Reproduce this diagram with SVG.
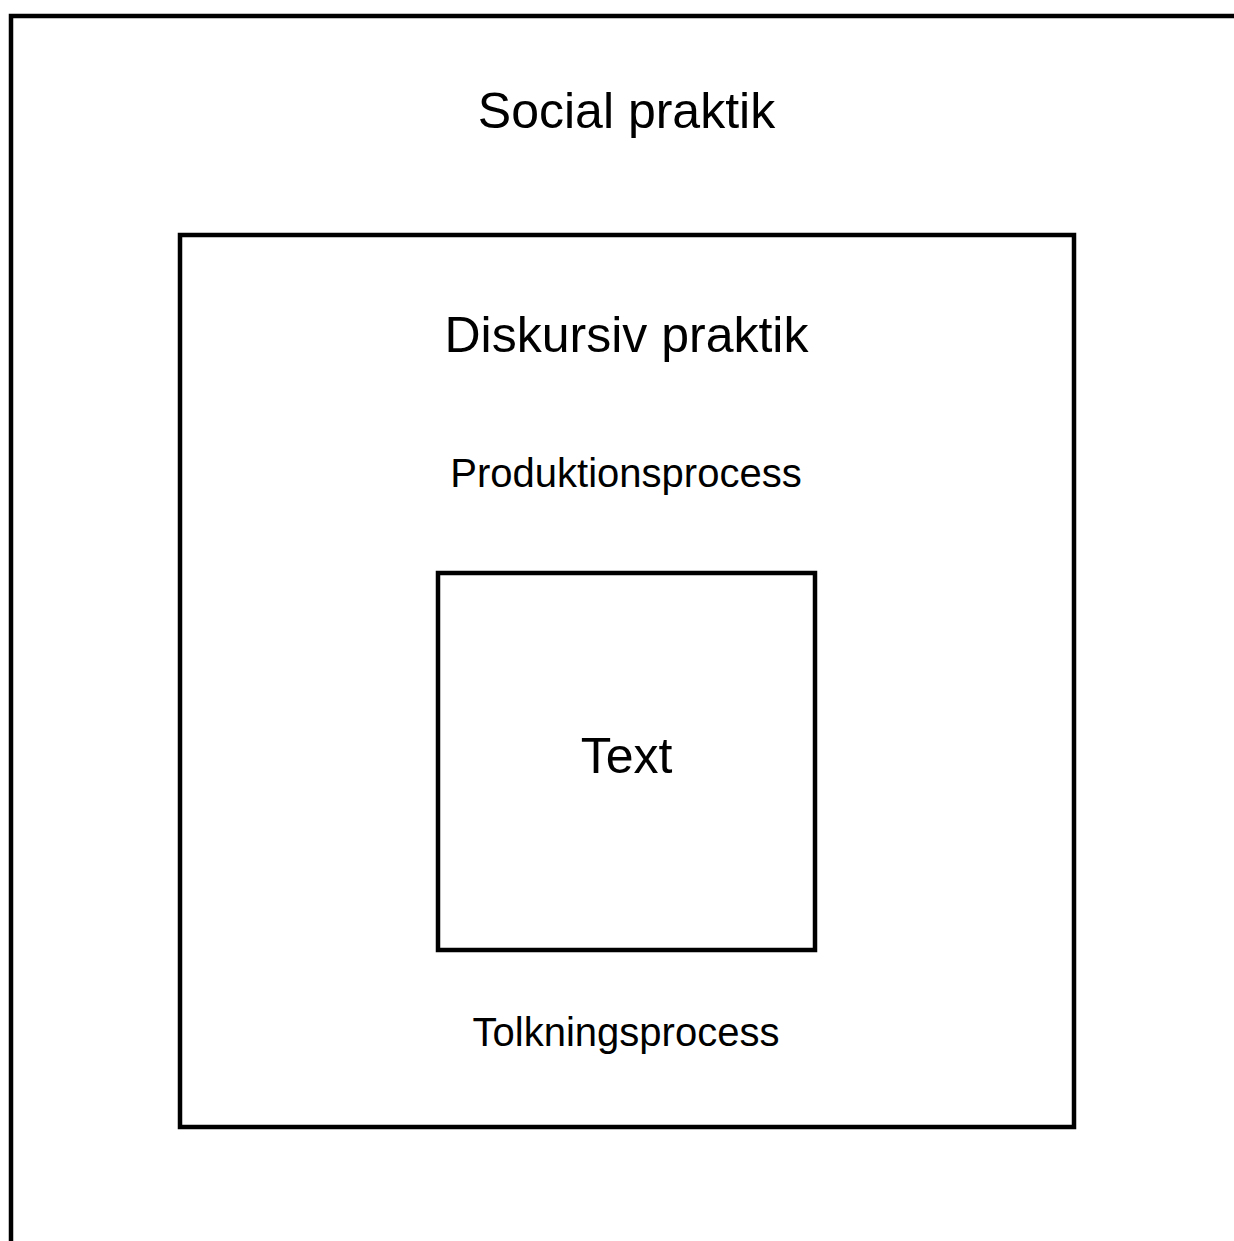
<svg xmlns="http://www.w3.org/2000/svg" width="1234" height="1241" viewBox="0 0 1234 1241">
<style>
.box{fill:none;stroke:#000;stroke-width:4.5}
.lbl{font-family:"Liberation Sans",Arial,Helvetica,sans-serif;fill:#000;text-anchor:middle}
.big{font-size:50px}
.mid{font-size:40px}
</style>
<rect width="1234" height="1241" fill="#fff"/>
<g id="social-praktik">
<rect class="box" x="11" y="16" width="1300" height="1300"/>
<text class="lbl big" x="626.5" y="128">Social praktik</text>
</g>
<g id="diskursiv-praktik">
<rect class="box" x="180" y="235" width="894" height="892"/>
<text class="lbl big" x="626.5" y="352">Diskursiv praktik</text>
<text class="lbl mid" x="626" y="487">Produktionsprocess</text>
<text class="lbl mid" x="626" y="1046">Tolkningsprocess</text>
</g>
<g id="text-node">
<rect class="box" x="438" y="573" width="377" height="377"/>
<text class="lbl big" x="626.5" y="773">Text</text>
</g>
<g id="connectors"></g>
</svg>
